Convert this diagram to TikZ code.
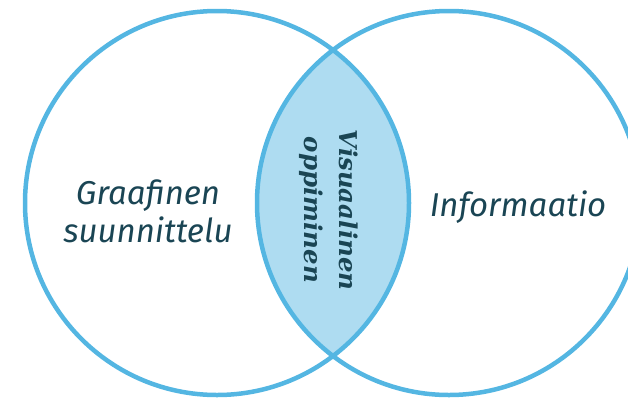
\documentclass[tikz,border=0pt]{standalone}
\usepackage{fontspec}
\setsansfont{Fira Sans}
\newfontfamily\lensfont{DejaVu Serif}
\usetikzlibrary{positioning}

\definecolor{ringblue}{HTML}{54B6E2}
\definecolor{lensblue}{HTML}{AEDCF1}
\definecolor{nameteal}{HTML}{1A4554}

\begin{document}
\begin{tikzpicture}[x=1pt,y=1pt,
        ring/.style={circle,draw=ringblue,line width=4.5pt,minimum size=384pt,inner sep=0pt},
        setname/.style={text=nameteal,font=\sffamily\itshape\fontsize{33}{38}\selectfont,align=center},
        lensname/.style={text=nameteal,font=\lensfont\bfseries\itshape\fontsize{24.5}{35}\selectfont,align=center}]

  \useasboundingbox (0,0) rectangle (628,-397);

  \coordinate (c_l) at (217,-203);
  \coordinate (c_r) at (449,-203);

  % the overlap
  \begin{scope}
    \clip (c_l) circle [radius=192pt];
    \fill[lensblue] (c_r) circle [radius=192pt];
  \end{scope}

  \node[ring] (set_l) at (c_l) {};
  \node[ring] (set_r) at (c_r) {};

  \node[setname] (gs) at (148,-211) {Graafinen\\suunnittelu};
  \node[setname] (info) at (518,-207) {Informaatio};
  \node[lensname,rotate=-90] (vo) at (329,-210) {Visuaalinen\\oppiminen};

\end{tikzpicture}
\end{document}
